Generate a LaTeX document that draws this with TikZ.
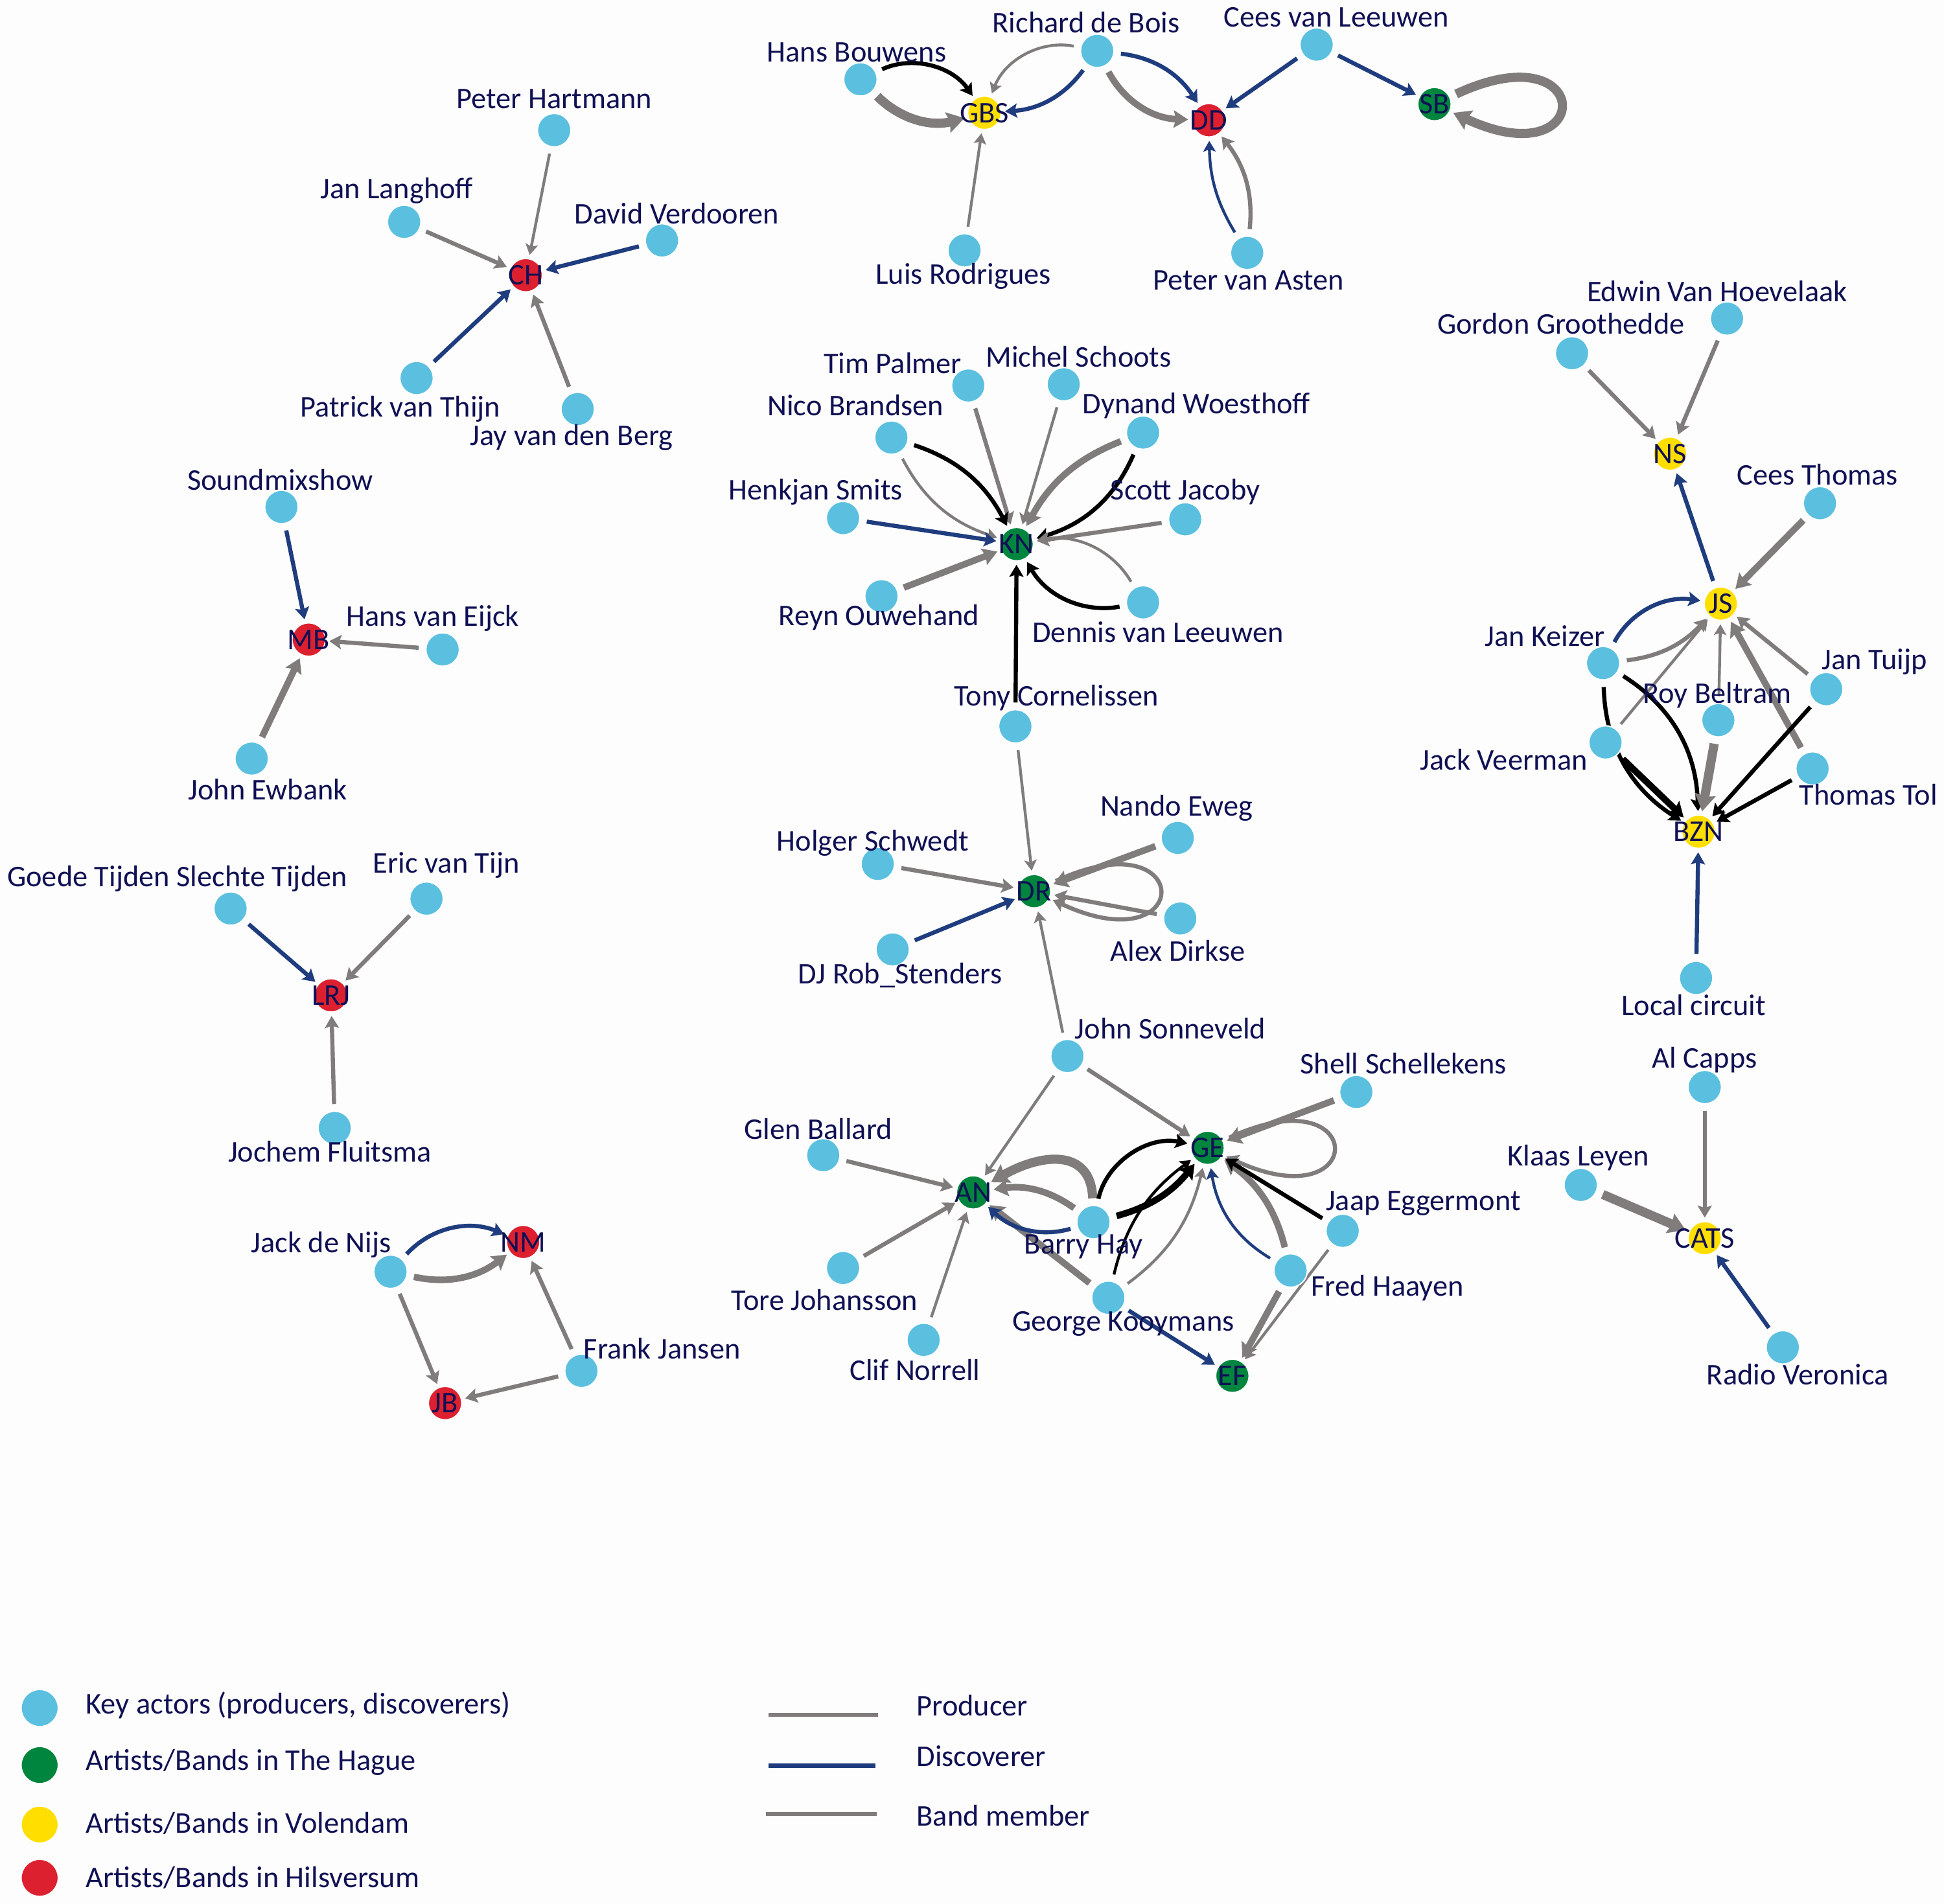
\documentclass[tikz,border=0pt]{standalone}
\usepackage{fontspec}
\setmainfont{Carlito}
\usetikzlibrary{arrows.meta}
\definecolor{actorblue}{RGB}{91,192,223}
\definecolor{hgreen}{RGB}{0,133,62}
\definecolor{vyellow}{RGB}{255,222,0}
\definecolor{hred}{RGB}{220,32,48}
\definecolor{navy}{RGB}{16,16,84}
\definecolor{egray}{RGB}{128,124,124}
\definecolor{eblue}{RGB}{31,61,126}
\definecolor{bgwhite}{RGB}{253,253,253}
\newcommand\lblfont{\fontsize{13.8}{16}\selectfont}
\newcommand\keyactor[6]{\node[actor] (#1) at (#2,-#3) {}; \node[lab] (l#1) at (#4,-#5) {#6};}
\newcommand\artist[5]{\node[#5] (#1) at (#2,-#3) {}; \node[lab] (t#1) at (#1) {#4};}
\pgfdeclarelayer{bglayer}
\pgfdeclarelayer{edgelayer}
\pgfsetlayers{bglayer,edgelayer,main}
\tikzset{
  actor/.style={circle, fill=actorblue, draw=white, line width=0.6pt, minimum size=0.54cm, inner sep=0pt},
  artnode/.style={circle, draw=white, line width=0.6pt, minimum size=0.54cm, inner sep=0pt},
  hague/.style={artnode, fill=hgreen},
  volendam/.style={artnode, fill=vyellow},
  hilv/.style={artnode, fill=hred},
  lab/.style={text=navy, font=\lblfont, inner sep=0pt},
  legtext/.style={lab, anchor=west},
  conn/.style={-{Stealth[length=3.6pt 1, width=4pt 1.3, inset=1pt]}, shorten >=1.5pt, shorten <=3pt},
  prod/.style={conn, draw=egray},
  disc/.style={conn, draw=eblue},
  band/.style={conn, draw=black},
  lw1/.style={line width=1.3pt},
  lw2/.style={line width=1.9pt},
  lw3/.style={line width=3pt},
  lw4/.style={line width=4.2pt},
  selfloop/.style={out=25, in=-25, distance=2.6cm},
}
\begin{document}
\begin{tikzpicture}[x=0.02cm, y=0.02cm]
\begin{pgfonlayer}{bglayer}
\fill[bgwhite] (0,0) rectangle (1568,-1536);
\end{pgfonlayer}
\useasboundingbox (0,0) rectangle (1568,-1536);

% ---------- top cluster ----------
\artist{gbs}{794}{91}{GBS}{volendam}
\artist{dd}{975}{97}{DD}{hilv}
\artist{sb}{1157}{84}{SB}{hague}
\keyactor{hb}{694}{64}{691}{42}{Hans Bouwens}
\keyactor{rdb}{885}{41}{876}{18}{Richard de Bois}
\keyactor{cvl}{1062}{36}{1078}{14}{Cees van Leeuwen}
\keyactor{lr}{778}{202}{777}{223}{Luis Rodrigues}
\keyactor{pva}{1006}{204}{1007}{226}{Peter van Asten}

% ---------- CH ----------
\artist{ch}{424}{222}{CH}{hilv}
\keyactor{ph}{447}{105}{447}{80}{Peter Hartmann}
\keyactor{jl}{326}{179}{320}{154}{Jan Langhoff}
\keyactor{dv}{534}{194}{546}{172}{David Verdooren}
\keyactor{pvt}{336}{305}{323}{330}{Patrick van Thijn}
\keyactor{jvb}{466}{330}{461}{353}{Jay van den Berg}

% ---------- MB ----------
\artist{mb}{249}{516}{MB}{hilv}
\keyactor{smx}{227}{409}{226}{387}{Soundmixshow}
\keyactor{hve}{357}{524}{349}{499}{Hans van Eijck}
\keyactor{jew}{203}{612}{216}{637}{John Ewbank}

% ---------- LRJ ----------
\artist{lrj}{267}{803}{LRJ}{hilv}
\keyactor{gt}{186}{733}{143}{709}{Goede Tijden Slechte Tijden}
\keyactor{evt}{344}{725}{360}{698}{Eric van Tijn}
\keyactor{jf}{270}{910}{266}{929}{Jochem Fluitsma}

% ---------- NM / JB ----------
\artist{nm}{422}{1002}{NM}{hilv}
\artist{jb}{359}{1132}{JB}{hilv}
\keyactor{jdn}{315}{1026}{259}{1004}{Jack de Nijs}
\keyactor{fj}{469}{1106}{534}{1088}{Frank Jansen}

% ---------- KN ----------
\artist{kn}{820}{439}{KN}{hague}
\keyactor{tp}{781}{311}{720}{293}{Tim Palmer}
\keyactor{ms}{858}{310}{870}{288}{Michel Schoots}
\keyactor{nb}{719}{353}{690}{327}{Nico Brandsen}
\keyactor{dw}{922}{349}{965}{327}{Dynand Woesthoff}
\keyactor{hs}{680}{418}{658}{397}{Henkjan Smits}
\keyactor{sj}{956}{419}{956}{397}{Scott Jacoby}
\keyactor{ro}{711}{481}{709}{498}{Reyn Ouwehand}
\keyactor{dvl}{922}{486}{934}{510}{Dennis van Leeuwen}
\keyactor{tc}{819}{586}{852}{563}{Tony Cornelissen}

% ---------- DR ----------
\artist{dr}{834}{719}{DR}{hague}
\keyactor{hsw}{708}{697}{704}{680}{Holger Schwedt}
\keyactor{ne}{950}{676}{949}{652}{Nando Eweg}
\keyactor{djr}{720}{766}{726}{787}{DJ Rob\_Stenders}
\keyactor{ad}{952}{741}{950}{767}{Alex Dirkse}
\keyactor{jsv}{861}{852}{944}{830}{John Sonneveld}

% ---------- AN / GE / EF ----------
\artist{an}{785}{962}{AN}{hague}
\artist{ge}{974}{926}{GE}{hague}
\artist{ef}{994}{1110}{EF}{hague}
\keyactor{ss}{1094}{881}{1132}{858}{Shell Schellekens}
\keyactor{gb}{664}{932}{660}{911}{Glen Ballard}
\keyactor{bh}{882}{986}{874}{1006}{Barry Hay}
\keyactor{je}{1083}{993}{1148}{971}{Jaap Eggermont}
\keyactor{tj}{680}{1023}{665}{1049}{Tore Johansson}
\keyactor{fh}{1041}{1025}{1119}{1039}{Fred Haayen}
\keyactor{gk}{894}{1047}{906}{1068}{George Kooymans}
\keyactor{cn}{745}{1081}{738}{1105}{Clif Norrell}

% ---------- NS / JS / BZN ----------
\artist{ns}{1347}{366}{NS}{volendam}
\artist{js}{1388}{487}{JS}{volendam}
\artist{bzn}{1370}{671}{BZN}{volendam}
\keyactor{gg}{1268}{285}{1259}{261}{Gordon Groothedde}
\keyactor{evh}{1393}{257}{1385}{235}{Edwin Van Hoevelaak}
\keyactor{ct}{1468}{406}{1466}{383}{Cees Thomas}
\keyactor{jk}{1293}{535}{1246}{513}{Jan Keizer}
\keyactor{jt}{1473}{556}{1512}{534}{Jan Tuijp}
\keyactor{rb}{1386}{581}{1385}{561}{Roy Beltram}
\keyactor{jv}{1295}{599}{1213}{613}{Jack Veerman}
\keyactor{tt}{1462}{620}{1507}{641}{Thomas Tol}
\keyactor{lc}{1368}{789}{1366}{811}{Local circuit}

% ---------- CATS ----------
\artist{cats}{1375}{999}{CATS}{volendam}
\keyactor{ac}{1375}{877}{1375}{855}{Al Capps}
\keyactor{kl}{1275}{956}{1273}{934}{Klaas Leyen}
\keyactor{rv}{1438}{1087}{1450}{1109}{Radio Veronica}

% ---------- legend ----------
\node[actor, minimum size=0.6cm] (lg1) at (32,-1378) {};
\node[hague, minimum size=0.6cm] (lg2) at (32,-1424) {};
\node[volendam, minimum size=0.6cm] (lg3) at (32,-1472) {};
\node[hilv, minimum size=0.6cm] (lg4) at (32,-1515) {};
\node[legtext] (lt1) at (69,-1376) {Key actors (producers, discoverers)};
\node[legtext] (lt2) at (69,-1422) {Artists/Bands in The Hague};
\node[legtext] (lt3) at (69,-1471) {Artists/Bands in Volendam};
\node[legtext] (lt4) at (69,-1515) {Artists/Bands in Hilsversum};
\coordinate (pa) at (620,-1383.5); \coordinate (pb) at (708,-1383.5);
\coordinate (da) at (620,-1424.5); \coordinate (db) at (706,-1424.5);
\coordinate (ba) at (618,-1463.5); \coordinate (bb) at (707,-1463.5);
\draw[egray, line width=1.8pt] (pa) -- (pb);
\draw[eblue, line width=1.8pt] (da) -- (db);
\draw[egray, line width=1.8pt] (ba) -- (bb);
\node[legtext] (lp) at (739,-1376) {Producer};
\node[legtext] (ld) at (739,-1417) {Discoverer};
\node[legtext] (lb) at (739,-1465) {Band member};

% ---------- edges ----------
\begin{pgfonlayer}{edgelayer}
% top
\draw[band, lw2] (hb) to[bend left=40] (gbs);
\draw[prod, lw4] (hb) to[bend right=30] (gbs);
\draw[prod, lw1] (rdb) to[bend right=40] (gbs);
\draw[disc, lw2] (rdb) to[bend left=25] (gbs);
\draw[prod, lw3] (rdb) to[bend right=30] (dd);
\draw[disc, lw2] (rdb) to[bend left=25] (dd);
\draw[disc, lw2] (cvl) -- (dd);
\draw[disc, lw2] (cvl) -- (sb);
\draw[prod, lw4] (sb) to[selfloop] (sb);
\draw[prod, lw1] (lr) -- (gbs);
\draw[disc, lw1] (pva) to[bend left=15] (dd);
\draw[prod, lw2] (pva) to[bend right=22] (dd);
% CH
\draw[prod, lw1] (ph) -- (ch);
\draw[prod, lw2] (jl) -- (ch);
\draw[disc, lw2] (dv) -- (ch);
\draw[disc, lw2] (pvt) -- (ch);
\draw[prod, lw2] (jvb) -- (ch);
% MB
\draw[disc, lw2] (smx) -- (mb);
\draw[prod, lw2] (hve) -- (mb);
\draw[prod, lw3] (jew) -- (mb);
% LRJ
\draw[disc, lw2] (gt) -- (lrj);
\draw[prod, lw2] (evt) -- (lrj);
\draw[prod, lw2] (jf) -- (lrj);
% NM / JB
\draw[disc, lw2] (jdn) to[bend left=35] (nm);
\draw[prod, lw3] (jdn) to[bend right=25] (nm);
\draw[prod, lw2] (jdn) -- (jb);
\draw[prod, lw2] (fj) -- (nm);
\draw[prod, lw2] (fj) -- (jb);
% KN
\draw[prod, lw2] (tp) -- (kn);
\draw[prod, lw1] (ms) -- (kn);
\draw[band, lw2] (nb) to[bend left=22] (kn);
\draw[prod, lw1] (nb) to[bend right=22] (kn);
\draw[prod, lw3] (dw) to[bend right=20] (kn);
\draw[band, lw2] (dw) to[bend left=25] (kn);
\draw[disc, lw2] (hs) -- (kn);
\draw[prod, lw2] (sj) -- (kn);
\draw[prod, lw3] (ro) -- (kn);
\draw[band, lw2] (dvl) to[bend left=35] (kn);
\draw[prod, lw1] (dvl) to[bend right=35] (kn);
\draw[band, lw2] (tc) -- (kn);
% DR
\draw[prod, lw1] (tc) -- (dr);
\draw[prod, lw2] (hsw) -- (dr);
\draw[prod, lw3] (ne) -- (dr);
\draw[disc, lw2] (djr) -- (dr);
\draw[prod, lw2] (ad) -- (dr);
\draw[prod, lw2] (dr) to[selfloop] (dr);
\draw[prod, lw1] (jsv) -- (dr);
% AN / GE / EF
\draw[prod, lw1] (jsv) -- (an);
\draw[prod, lw2] (jsv) -- (ge);
\draw[prod, lw3] (ss) -- (ge);
\draw[prod, lw2] (ge) to[selfloop] (ge);
\draw[prod, lw2] (gb) -- (an);
\draw[prod, lw2] (tj) -- (an);
\draw[prod, lw1] (cn) -- (an);
\draw[prod, lw3] (gk) -- (an);
\draw[prod, lw4] (bh) to[out=92, in=30, looseness=1.4] (an);
\draw[prod, lw3] (bh) to[bend right=22] (an);
\draw[disc, lw2] (bh) to[bend left=30] (an);
\draw[band, lw2] (bh) to[bend left=45] (ge);
\draw[band, lw3] (bh) to[bend right=18] (ge);
\draw[band, lw1] (gk) to[bend left=20] (ge);
\draw[prod, lw1] (gk) to[bend right=20] (ge);
\draw[disc, lw1] (fh) to[bend left=25] (ge);
\draw[prod, lw3] (fh) to[bend right=20] (ge);
\draw[band, lw2] (je) -- (ge);
\draw[prod, lw1] (je) -- (ef);
\draw[prod, lw3] (fh) -- (ef);
\draw[disc, lw2] (gk) -- (ef);
% NS / JS / BZN
\draw[prod, lw2] (gg) -- (ns);
\draw[prod, lw2] (evh) -- (ns);
\draw[disc, lw2] (js) -- (ns);
\draw[prod, lw3] (ct) -- (js);
\draw[disc, lw2] (jk) to[bend left=35] (js);
\draw[prod, lw2] (jk) to[bend right=20] (js);
\draw[prod, lw1] (jv) -- (js);
\draw[prod, lw1] (rb) -- (js);
\draw[prod, lw3] (tt) -- (js);
\draw[prod, lw2] (jt) -- (js);
\draw[band, lw2] (jk) to[bend left=28] (bzn);
\draw[band, lw2] (jk) to[bend right=28] (bzn);
\draw[band, lw3] (jv) -- (bzn);
\draw[prod, lw4] (rb) -- (bzn);
\draw[band, lw2] (jt) -- (bzn);
\draw[band, lw2] (tt) -- (bzn);
\draw[disc, lw2] (lc) -- (bzn);
% CATS
\draw[prod, lw2] (ac) -- (cats);
\draw[prod, lw4] (kl) -- (cats);
\draw[disc, lw2] (rv) -- (cats);
\end{pgfonlayer}
\end{tikzpicture}
\end{document}
